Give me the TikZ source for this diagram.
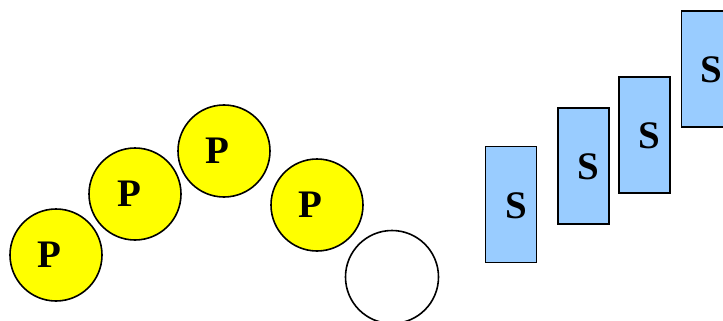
\documentclass[tikz,border=0pt]{standalone}
\usepackage{fontspec}
\setmainfont{Liberation Serif}
\definecolor{pyellow}{HTML}{FFFF00}
\definecolor{sblue}{HTML}{99CCFF}
\begin{document}
\begin{tikzpicture}[x=1pt,y=-1pt,
  pcirc/.style={circle,draw=black,line width=1.6pt,fill=pyellow,minimum size=92pt,inner sep=0pt},
  ecirc/.style={circle,draw=black,line width=1.6pt,fill=white,minimum size=93pt,inner sep=0pt},
  srect/.style={rectangle,draw=black,line width=1.6pt,fill=sblue,minimum width=51pt,minimum height=116pt,inner sep=0pt},
  lbl/.style={font=\fontsize{39}{39}\selectfont\bfseries,inner sep=0pt}]
\useasboundingbox (0,0) rectangle (723,321);
\node[pcirc] (p1) at (56,255) {};
\node[pcirc] (p2) at (135,194) {};
\node[pcirc] (p3) at (224,151) {};
\node[pcirc] (p4) at (317,205) {};
\node[ecirc] (e1) at (392,277) {};
\node[lbl] (t1) at ([xshift=-7pt]p1.center) {P};
\node[lbl] (t2) at ([xshift=-6pt]p2.center) {P};
\node[lbl] (t3) at ([xshift=-7pt]p3.center) {P};
\node[lbl] (t4) at ([xshift=-7pt]p4.center) {P};
\node[srect] (s1) at (511,204.5) {};
\node[srect] (s2) at (583.5,166) {};
\node[srect] (s3) at (644.5,135) {};
\node[srect] (s4) at (707,69) {};
\node[lbl] (u1) at ([xshift=5pt,yshift=-1.5pt]s1.center) {S};
\node[lbl] (u2) at ([xshift=5pt,yshift=-1pt]s2.center) {S};
\node[lbl] (u3) at ([xshift=5pt,yshift=-1pt]s3.center) {S};
\node[lbl] (u4) at ([xshift=4pt,yshift=-1pt]s4.center) {S};
\end{tikzpicture}
\end{document}
